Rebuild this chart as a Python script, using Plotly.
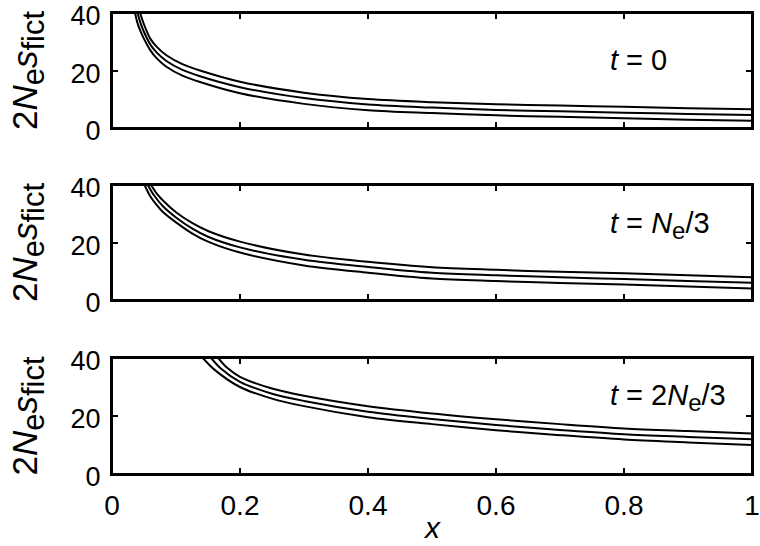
import plotly.graph_objects as go
from plotly.subplots import make_subplots

# Panel 1 (t = 0)
x1_top = [0.044, 0.05, 0.06, 0.07, 0.085, 0.11, 0.1375, 0.2, 0.3, 0.4, 0.5, 0.6, 0.7, 0.8, 0.9, 1.0]
y1_top = [40, 36.0, 31.0, 28.2, 25.3, 22.2, 20.0, 16.1, 12.3, 10.1, 9.0, 8.3, 7.8, 7.4, 6.9, 6.5]
x1_mid = [0.040, 0.045, 0.05, 0.06, 0.07, 0.085, 0.11, 0.1375, 0.2, 0.3, 0.4, 0.5, 0.6, 0.7, 0.8, 0.9, 1.0]
y1_mid = [40, 36.2, 33.4, 29.0, 26.2, 23.3, 20.2, 18.0, 14.2, 10.4, 8.2, 7.1, 6.3, 5.8, 5.3, 4.9, 4.5]
x1_bot = [0.036, 0.04, 0.045, 0.05, 0.06, 0.07, 0.085, 0.11, 0.1375, 0.2, 0.3, 0.4, 0.5, 0.6, 0.7, 0.8, 0.9, 1.0]
y1_bot = [40, 36.4, 33.4, 31.0, 27.0, 24.2, 21.3, 18.2, 16.0, 12.1, 8.4, 6.2, 5.2, 4.4, 3.9, 3.4, 2.9, 2.5]

# Panel 2 (t = Ne/3)
x2_top = [0.061, 0.07, 0.08, 0.1, 0.125, 0.15, 0.2, 0.3, 0.4, 0.5, 0.6, 0.7, 0.8, 0.9, 1.0]
y2_top = [40, 37.0, 34.5, 30.5, 26.8, 24.0, 20.3, 15.8, 13.3, 11.4, 10.5, 9.8, 9.3, 8.6, 7.9]
x2_mid = [0.056, 0.065, 0.08, 0.1, 0.125, 0.15, 0.2, 0.3, 0.4, 0.5, 0.6, 0.7, 0.8, 0.9, 1.0]
y2_mid = [40, 36.6, 32.5, 28.7, 24.9, 22.0, 18.3, 14.0, 11.5, 9.5, 8.6, 7.9, 7.3, 6.6, 6.0]
x2_bot = [0.051, 0.06, 0.07, 0.08, 0.1, 0.125, 0.15, 0.2, 0.3, 0.4, 0.5, 0.6, 0.7, 0.8, 0.9, 1.0]
y2_bot = [40, 36.0, 33.0, 30.5, 27.0, 23.2, 20.3, 16.5, 12.0, 9.5, 7.5, 6.6, 5.9, 5.4, 4.7, 4.0]

# Panel 3 (t = 2Ne/3)
x3_top = [0.166, 0.18, 0.2, 0.25, 0.3, 0.4, 0.5, 0.6, 0.7, 0.8, 0.9, 1.0]
y3_top = [40, 36.6, 33.5, 29.5, 27.0, 23.4, 20.9, 18.9, 17.2, 15.7, 14.8, 14.0]
x3_mid = [0.155, 0.17, 0.2, 0.25, 0.3, 0.4, 0.5, 0.6, 0.7, 0.8, 0.9, 1.0]
y3_mid = [40, 36.4, 31.8, 27.7, 25.2, 21.5, 19.0, 16.9, 15.2, 13.7, 12.8, 12.0]
x3_bot = [0.142, 0.16, 0.2, 0.25, 0.3, 0.4, 0.5, 0.6, 0.7, 0.8, 0.9, 1.0]
y3_bot = [40, 36.0, 30.0, 26.0, 23.4, 19.6, 17.2, 15.1, 13.4, 11.9, 10.9, 10.0]

panels = [
    [(x1_top, y1_top), (x1_mid, y1_mid), (x1_bot, y1_bot)],
    [(x2_top, y2_top), (x2_mid, y2_mid), (x2_bot, y2_bot)],
    [(x3_top, y3_top), (x3_mid, y3_mid), (x3_bot, y3_bot)],
]
SUBSZ = "font-size:24px"
panel_labels = [
    "<i>t</i> = 0",
    f"<i>t</i> = <i>N</i><sub><span style='{SUBSZ}'>e</span></sub>/3",
    f"<i>t</i> = 2<i>N</i><sub><span style='{SUBSZ}'>e</span></sub>/3",
]
label_y = [23.7, 26.0, 26.5]

x_ticks = [0, 0.2, 0.4, 0.6, 0.8, 1]
x_ticklabels = ["0", "0.2", "0.4", "0.6", "0.8", "1"]
y_ticks = [0, 20, 40]

FONT = "Liberation Sans, Arial, sans-serif"
YTITLE = ("2<i>N</i><sub><span style='font-size:31px'>e</span></sub>"
          "<i>s</i><sub><span style='font-size:31px'>fict</span></sub>")

fig = make_subplots(rows=3, cols=1, shared_xaxes=False, vertical_spacing=0.12)

for r, curves in enumerate(panels, start=1):
    for xs, ys in curves:
        fig.add_trace(go.Scatter(x=xs, y=ys, mode="lines",
                                 line=dict(color="black", width=2, shape="spline", smoothing=0.9),
                                 showlegend=False, hoverinfo="skip", cliponaxis=True), row=r, col=1)

domains = [[0.7505, 1.0], [0.3774, 0.6269], [0.0, 0.2516]]
for i, dom in enumerate(domains, start=1):
    xa = "xaxis" if i == 1 else f"xaxis{i}"
    ya = "yaxis" if i == 1 else f"yaxis{i}"
    xr = "x" if i == 1 else f"x{i}"
    yr = "y" if i == 1 else f"y{i}"
    fig.layout[ya].update(domain=dom, range=[0, 40], tickvals=y_ticks, automargin=False,
                          ticks="inside", ticklen=6, tickwidth=2, tickcolor="black",
                          showline=True, linewidth=2, linecolor="black", mirror="ticks",
                          showgrid=False, zeroline=False, ticklabelstandoff=4,
                          ticklabeloverflow="allow", ticklabelshift=3,
                          tickfont=dict(family=FONT, size=27, color="black"))
    fig.layout[xa].update(range=[0, 1], tickvals=x_ticks, ticktext=x_ticklabels, automargin=False,
                          ticks="inside", ticklen=6, tickwidth=2, tickcolor="black",
                          showline=True, linewidth=2, linecolor="black", mirror="ticks",
                          showgrid=False, zeroline=False, showticklabels=(i == 3),
                          ticklabelstandoff=5, ticklabeloverflow="allow",
                          tickfont=dict(family=FONT, size=28, color="black"))
    # panel frame
    fig.add_shape(type="rect", xref=f"{xr} domain", yref=f"{yr} domain",
                  x0=0, x1=1, y0=0, y1=1, line=dict(color="black", width=2),
                  fillcolor="rgba(0,0,0,0)", layer="above")
    fig.add_annotation(xref="paper", yref="paper", x=-0.132, y=(dom[0] + dom[1]) / 2,
                       text=YTITLE, textangle=-90,
                       showarrow=False, xanchor="center", yanchor="middle",
                       font=dict(family=FONT, size=35, color="black"))
    fig.add_annotation(xref=f"{xr} domain", yref=yr, x=0.775, y=label_y[i - 1],
                       text=panel_labels[i - 1], showarrow=False, xanchor="left", yanchor="middle",
                       font=dict(family=FONT, size=29, color="black"))

fig.add_annotation(xref="paper", yref="paper", x=0.5, y=-0.115, text="<i>x</i>",
                   showarrow=False, xanchor="center", yanchor="middle",
                   font=dict(family=FONT, size=30, color="black"))

fig.update_layout(width=760, height=546, margin=dict(l=112, r=8, t=13, b=72, autoexpand=False),
                  plot_bgcolor="white", paper_bgcolor="white")

fig.write_html("out.html", config={"displayModeBar": False},
               post_script="document.body.style.margin='0';")
